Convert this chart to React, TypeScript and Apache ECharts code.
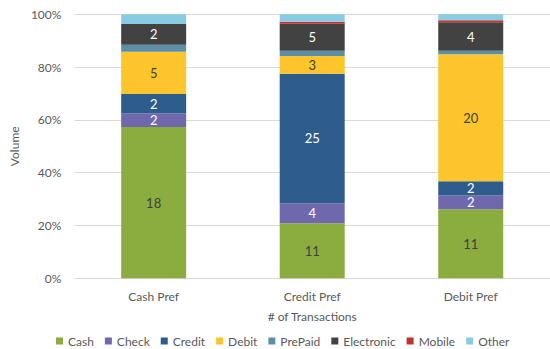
import React, { useEffect, useRef } from "react";
import * as echarts from "echarts";

const categories = ["Cash Pref", "Credit Pref", "Debit Pref"];
const yTicks = ["0%", "20%", "40%", "60%", "80%", "100%"];

// share of each payment type (percent of volume), per category
const cashPct = [57.5, 20.9, 26.2];
const checkPct = [5.1, 7.6, 5.3];
const creditPct = [7.45, 49.2, 5.4];
const debitPct = [16.0, 6.7, 48.2];
const prepaidPct = [2.66, 2.0, 1.3];
const electronicPct = [7.9, 10.3, 10.8];
const mobilePct = [0, 0.76, 0.76];
const otherPct = [3.7, 2.8, 2.3];

// # of transactions shown as labels
const cashLabels = [18, 11, 11];
const checkLabels = [2, 4, 2];
const creditLabels = [2, 25, 2];
const debitLabels = [5, 3, 20];
const electronicLabels = [2, 5, 4];

const seriesDefs = [
  { name: "Cash", data: cashPct, labels: cashLabels, color: "#8BAD3F", text: "#404040" },
  { name: "Check", data: checkPct, labels: checkLabels, color: "#6F68AC", text: "#ffffff" },
  { name: "Credit", data: creditPct, labels: creditLabels, color: "#2E5D8B", text: "#ffffff" },
  { name: "Debit", data: debitPct, labels: debitLabels, color: "#FCC52C", text: "#404040" },
  { name: "PrePaid", data: prepaidPct, labels: null, color: "#5C8FA7", text: "#ffffff" },
  { name: "Electronic", data: electronicPct, labels: electronicLabels, color: "#424242", text: "#ffffff" },
  { name: "Mobile", data: mobilePct, labels: null, color: "#C0332F", text: "#ffffff" },
  { name: "Other", data: otherPct, labels: null, color: "#88CBE3", text: "#ffffff" },
];

export default function App() {
  const ref = useRef<HTMLDivElement>(null);
  useEffect(() => {
    if (!ref.current) return;
    const chart = echarts.init(ref.current, null, { renderer: "svg" });
    const totals = categories.map((_, i) =>
      seriesDefs.reduce((s, d) => s + d.data[i], 0)
    );
    const font = "Lato, 'Open Sans', sans-serif";
    chart.setOption({
      animation: false,
      textStyle: { fontFamily: font },
      grid: { left: 71, right: -6, top: 14.3, bottom: 70.7 },
      legend: {
        left: 51,
        top: 330,
        icon: "rect",
        itemWidth: 7,
        itemHeight: 7,
        itemGap: 11,
        textStyle: { color: "#595959", fontSize: 12, fontFamily: font },
        data: seriesDefs.map((d) => d.name),
      },
      xAxis: {
        type: "category",
        data: categories,
        axisLine: { show: false },
        axisTick: { show: false },
        axisLabel: { color: "#595959", fontSize: 12, margin: 12, fontFamily: font },
        name: "# of Transactions",
        nameLocation: "middle",
        nameGap: 32,
        nameTextStyle: { color: "#595959", fontSize: 12, fontFamily: font },
      },
      yAxis: {
        type: "value",
        min: 0,
        max: 100,
        interval: 20,
        axisLine: { show: false },
        axisTick: { show: false },
        splitLine: { lineStyle: { color: "#D9D9D9", width: 1 } },
        axisLabel: {
          color: "#595959",
          fontSize: 12,
          margin: 13,
          fontFamily: font,
          formatter: (v: number) => yTicks[Math.round(v / 20)],
        },
        name: "Volume",
        nameLocation: "middle",
        nameGap: 52,
        nameTextStyle: { color: "#595959", fontSize: 12, fontFamily: font },
      },
      series: seriesDefs.map((d) => ({
        name: d.name,
        type: "bar",
        stack: "total",
        barWidth: 65,
        itemStyle: { color: d.color },
        data: d.data.map((v, i) => (v / totals[i]) * 100),
        label: {
          show: !!d.labels,
          position: "inside",
          color: d.text,
          fontSize: 13,
          lineHeight: 12,
          fontFamily: font,
          formatter: (p: any) => (d.labels ? String(d.labels[p.dataIndex]) : ""),
        },
      })),
    });
    return () => chart.dispose();
  }, []);
  return (
    <div
      ref={ref}
      style={{ position: "absolute", left: 0, top: 0, width: 550, height: 349, background: "#fff" }}
    />
  );
}
